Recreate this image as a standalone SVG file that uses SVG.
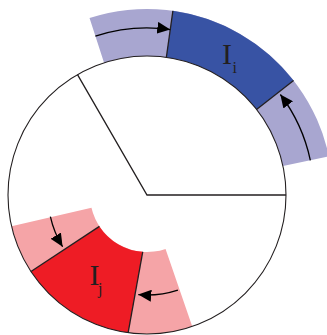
<svg xmlns="http://www.w3.org/2000/svg" width="327" height="335" viewBox="0 0 327 335">
  <style>
    .light-blue { fill: #a8a6d0; }
    .dark-blue { fill: #3853a4; }
    .pink { fill: #f5a4a7; }
    .red { fill: #ee1c25; }
    .edge { fill: none; stroke: #231f20; stroke-width: 1.3; }
    .ring { fill: none; stroke: #231f20; stroke-width: 1.1; }
    .arrow { fill: none; stroke: #000; stroke-width: 1.3; marker-end: url(#ah); }
    .label { font-family: "Liberation Serif", "Times New Roman", serif; fill: #231f20; }
  </style>
  <defs>
    <marker id="ah" markerUnits="userSpaceOnUse" markerWidth="13" markerHeight="12" refX="13" refY="6" orient="auto">
      <path d="M0,0 L13,6 L0,12 Z" fill="#000"/>
    </marker>
  </defs>
  <rect width="327" height="335" fill="#fff"/>

  <!-- interval I_i: outer band -->
  <g id="interval-i">
    <path class="light-blue" d="M 89.53 18.1 A 186 186 0 0 1 328.93 156.33 L 282.96 166.1 A 139 139 0 0 0 104.05 62.8 Z"/>
    <path class="dark-blue" d="M 172.89 10.81 A 186 186 0 0 1 293.57 80.48 L 256.53 109.42 A 139 139 0 0 0 166.35 57.35 Z"/>
  </g>

  <!-- interval I_j: inner band -->
  <g id="interval-j">
    <path class="pink" d="M 165.56 248.89 L 192.25 326.42 A 139 139 0 0 1 11.56 226.27 L 91.46 207.82 A 57 57 0 0 0 165.56 248.89 Z"/>
    <path class="red" d="M 142.73 251.84 L 128.14 332.71 A 139 139 0 0 1 30.96 271.52 L 99.42 226.38 A 57 57 0 0 0 142.73 251.84 Z"/>
  </g>

  <!-- circle with two radii -->
  <g id="circle">
    <circle class="ring" cx="147" cy="195" r="139"/>
    <polyline class="edge" points="77.5,74.6 147,195 286,195"/>
  </g>

  <!-- segment boundaries and arrows -->
  <g id="connectors">
    <line class="edge" x1="166.35" y1="57.35" x2="172.89" y2="10.81"/>
    <line class="edge" x1="256.53" y1="109.42" x2="293.57" y2="80.48"/>
    <line class="edge" x1="99.42" y1="226.38" x2="30.96" y2="271.52"/>
    <line class="edge" x1="142.73" y1="251.84" x2="128.14" y2="332.71"/>

    <path class="arrow" d="M 95.4 36.17 A 167 167 0 0 1 170.24 29.62"/>
    <path class="arrow" d="M 310.35 160.28 A 167 167 0 0 0 280.37 94.5"/>
    <path class="arrow" d="M 50.38 216.6 A 99 99 0 0 0 62.59 246.73"/>
    <path class="arrow" d="M 177.9 290.1 A 100 100 0 0 1 138.28 294.62"/>
  </g>

  <g id="label-i">
    <text class="label" x="222" y="63.5" font-size="30">I</text>
    <text class="label" x="232.5" y="73" font-size="16">i</text>
  </g>
  <g id="label-j">
    <text class="label" x="89.5" y="284.5" font-size="30">I</text>
    <text class="label" x="98" y="294" font-size="16">j</text>
  </g>
</svg>
